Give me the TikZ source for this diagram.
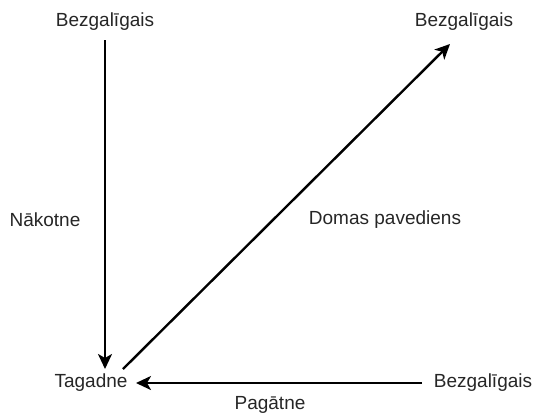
\documentclass[tikz,border=0pt]{standalone}
\usepackage{fontspec}
\setmainfont{Liberation Sans}
\usetikzlibrary{arrows, arrows.meta}
\usetikzlibrary{calc}

\begin{document}
\begin{tikzpicture}[x=1pt, y=-1pt,
    every node/.style={font=\fontsize{19}{21}\selectfont, text=black!85},
    flow/.style={line width=2.4pt, -{Stealth[length=15pt, width=14pt, inset=4pt]}}]
    \useasboundingbox (0,0) rectangle (535,416);

    \node (top1) at (105,22) {Bezgalīgais};
    \node (top2) at (464,22) {Bezgalīgais};
    \node (inf3) at (483,383) {Bezgalīgais};
    \node (now) at (91,383) {Tagadne};
    \node (future) at (45,220) {Nākotne};
    \node (thought) at (385,220) {Domas pavediens};
    \node (past) at (270,405) {Pagātne};

    \coordinate (a1) at (105,40);
    \coordinate (a2) at (105,369);
    \coordinate (d1) at (123,369);
    \coordinate (d2) at (450,44);
    \coordinate (h1) at (422,383);
    \coordinate (h2) at (136,383);

    \draw[flow] (a1) -- (a2);
    \draw[flow] (d1) -- (d2);
    \draw[flow] (h1) -- (h2);
\end{tikzpicture}
\end{document}
